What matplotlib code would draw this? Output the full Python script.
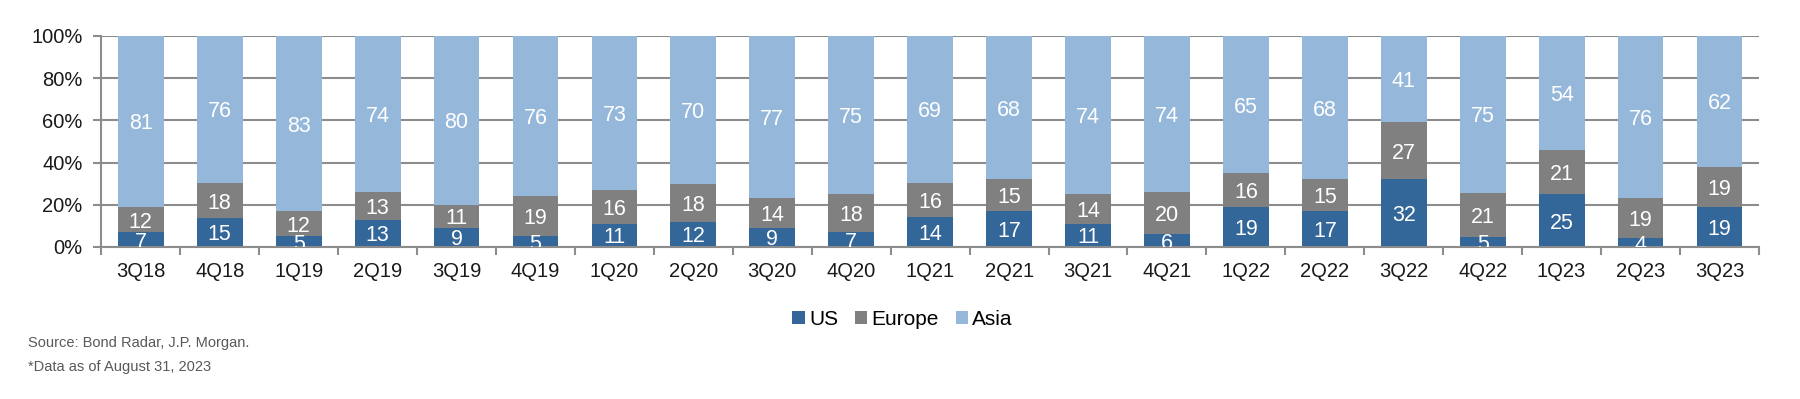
import numpy as np
import matplotlib
matplotlib.use('Agg')
import matplotlib.pyplot as plt
from matplotlib.patches import Patch

plt.rcParams['font.family'] = ['Liberation Sans', 'DejaVu Sans']

quarters = ['3Q18', '4Q18', '1Q19', '2Q19', '3Q19', '4Q19', '1Q20', '2Q20', '3Q20', '4Q20',
            '1Q21', '2Q21', '3Q21', '4Q21', '1Q22', '2Q22', '3Q22', '4Q22', '1Q23', '2Q23', '3Q23']
us = [7, 15, 5, 13, 9, 5, 11, 12, 9, 7, 14, 17, 11, 6, 19, 17, 32, 5, 25, 4, 19]
europe = [12, 18, 12, 13, 11, 19, 16, 18, 14, 18, 16, 15, 14, 20, 16, 15, 27, 21, 21, 19, 19]
asia = [81, 76, 83, 74, 80, 76, 73, 70, 77, 75, 69, 68, 74, 74, 65, 68, 41, 75, 54, 76, 62]
series_names = ['US', 'Europe', 'Asia']
colors = ['#336699', '#808080', '#95B8DA']

raw = np.array([us, europe, asia], dtype=float)
share = raw / raw.sum(axis=0) * 100  # 100% stacked

fig = plt.figure(figsize=(18, 3.99), dpi=100)
ax = fig.add_axes([0.0563, 0.381, 0.9209, 0.529])

x = np.arange(len(quarters))
bottom = np.zeros(len(quarters))
for k in range(3):
    ax.bar(x, share[k], bottom=bottom, width=0.58, color=colors[k], zorder=2)
    for i in range(len(x)):
        ax.text(x[i], bottom[i] + share[k][i] / 2, f'{int(raw[k][i])}', ha='center',
                va='center_baseline', color='white', fontsize=15.5, clip_on=True, zorder=3)
    bottom += share[k]

ax.set_xlim(-0.5, len(quarters) - 0.5)
ax.set_ylim(0, 100)
ax.set_yticks(np.arange(0, 101, 20))
ax.set_yticklabels([f'{v}%' for v in range(0, 101, 20)])
ax.yaxis.grid(True, color='#8c8c8c', linewidth=1.5, zorder=1)
ax.set_axisbelow(True)

# ticks between categories, labels at centres
ax.set_xticks(np.arange(-0.5, len(quarters), 1))
ax.set_xticklabels([])
ax.set_xticks(x, minor=True)
ax.set_xticklabels(quarters, minor=True)
ax.tick_params(axis='x', which='major', length=6, width=1.5, color='#8c8c8c', direction='out')
ax.tick_params(axis='x', which='minor', length=0, pad=11, labelsize=14.5, labelcolor='#1a1a1a')
ax.tick_params(axis='y', length=6, width=1.5, color='#8c8c8c', pad=7.5, labelsize=14.5,
               labelcolor='#1a1a1a')

for s in ['top', 'right']:
    ax.spines[s].set_visible(False)
for s in ['left', 'bottom']:
    ax.spines[s].set_color('#8c8c8c')
    ax.spines[s].set_linewidth(1.5)

handles = [Patch(facecolor=c, edgecolor='none') for c in colors]
fig.legend(handles, series_names, loc='center', bbox_to_anchor=(0.5014, 0.2), ncol=3,
           frameon=False, fontsize=15, handlelength=0.6, handleheight=0.6,
           handletextpad=0.2, columnspacing=0.8)

fig.text(28 / 1800, 1 - 343 / 399, 'Source: Bond Radar, J.P. Morgan.', fontsize=10.5,
         color='#595959', va='center', ha='left')
fig.text(28 / 1800, 1 - 367 / 399, '*Data as of August 31, 2023', fontsize=10.5,
         color='#595959', va='center', ha='left')

fig.savefig('out.png', dpi=100)
